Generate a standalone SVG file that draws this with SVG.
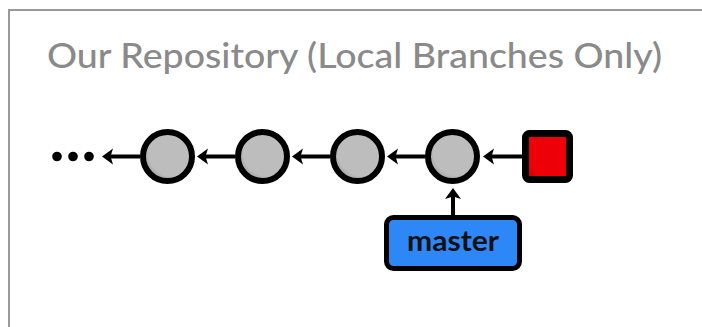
<svg xmlns="http://www.w3.org/2000/svg" width="702" height="327" viewBox="0 0 702 327">
  <style>
    .title { font-family: "Lato", "Liberation Sans", sans-serif; font-size: 34px; font-weight: 500; fill: #8a8a8a; }
    .label { font-family: "Lato", "Liberation Sans", sans-serif; font-size: 29px; font-weight: 700; fill: #111; }
    .commit { fill: url(#gray); stroke: #000; stroke-width: 6; }
    .edge { stroke: #000; stroke-width: 4; fill: none; }
    .head { fill: #000; }
    .dot { fill: #000; }
  </style>
  <defs>
    <radialGradient id="gray" cx="0.58" cy="0.42" r="0.6">
      <stop offset="0.78" stop-color="#bdbdbd"/>
      <stop offset="1" stop-color="#9e9e9e"/>
    </radialGradient>
    <linearGradient id="red" x1="1" y1="0" x2="0" y2="1">
      <stop offset="0.8" stop-color="#ee0008"/>
      <stop offset="1" stop-color="#b80006"/>
    </linearGradient>
  </defs>
  <rect width="702" height="327" fill="#ffffff"/>
  <path d="M9,327 V10 H702" fill="none" stroke="#999" stroke-width="2"/>
  <text class="title" x="47" y="68" textLength="615" lengthAdjust="spacingAndGlyphs">Our Repository (Local Branches Only)</text>

  <g id="connectors">
    <line class="edge" x1="140" y1="156.5" x2="110" y2="156.5"/>
    <path class="head" d="M102,156.5 L113,148.5 L110.5,156.5 L113,164.5 Z"/>
    <line class="edge" x1="235" y1="156.5" x2="205" y2="156.5"/>
    <path class="head" d="M197,156.5 L208,148.5 L205.5,156.5 L208,164.5 Z"/>
    <line class="edge" x1="330" y1="156.5" x2="300" y2="156.5"/>
    <path class="head" d="M292,156.5 L303,148.5 L300.5,156.5 L303,164.5 Z"/>
    <line class="edge" x1="425" y1="156.5" x2="395" y2="156.5"/>
    <path class="head" d="M387,156.5 L398,148.5 L395.5,156.5 L398,164.5 Z"/>
    <line class="edge" x1="522" y1="156.5" x2="491" y2="156.5"/>
    <path class="head" d="M483,156.5 L494,148.5 L491.5,156.5 L494,164.5 Z"/>
    <line class="edge" x1="453" y1="216" x2="453" y2="196"/>
    <path class="head" d="M453,188 L461,199 L453,196.5 L445,199 Z"/>
  </g>

  <g id="ellipsis">
    <circle class="dot" cx="57" cy="156.5" r="4.8"/>
    <circle class="dot" cx="73" cy="156.5" r="4.8"/>
    <circle class="dot" cx="89" cy="156.5" r="4.8"/>
  </g>
  <g id="commit1"><circle class="commit" cx="167.5" cy="156.5" r="24.5"/></g>
  <g id="commit2"><circle class="commit" cx="262.5" cy="156.5" r="24.5"/></g>
  <g id="commit3"><circle class="commit" cx="357.5" cy="156.5" r="24.5"/></g>
  <g id="commit4"><circle class="commit" cx="452.5" cy="156.5" r="24.5"/></g>
  <g id="head-node"><rect x="525.5" y="133.5" width="44" height="46" rx="4" fill="url(#red)" stroke="#000" stroke-width="7"/></g>
  <g id="master">
    <rect x="386.5" y="217.5" width="133" height="51" rx="7" fill="#2e87f7" stroke="#000" stroke-width="5"/>
    <text class="label" x="453" y="251" text-anchor="middle" textLength="92" lengthAdjust="spacingAndGlyphs">master</text>
  </g>
</svg>
